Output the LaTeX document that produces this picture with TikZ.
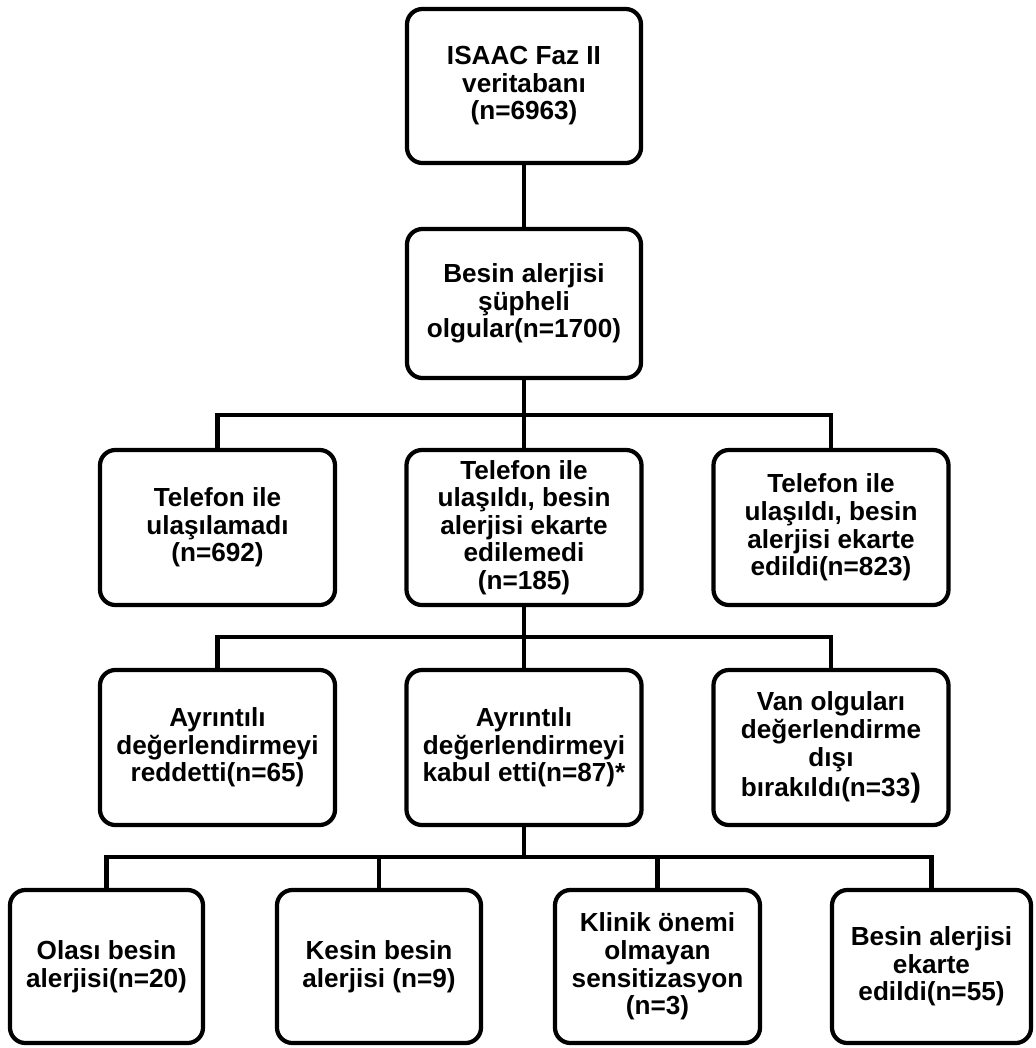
\documentclass[tikz,border=0pt]{standalone}
\usepackage{fontspec}
\setmainfont{Liberation Sans}
\usepackage{tikz}

\begin{document}
\begin{tikzpicture}[x=0.025cm,y=-0.025cm,
  box/.style={draw,rectangle,rounded corners=11pt,line width=3pt,align=center,inner sep=0pt,
    font=\bfseries\fontsize{18.6}{19.6}\selectfont},
  midbox/.style={box,minimum width=5.875cm,minimum height=3.875cm},
  leafbox/.style={box,minimum height=3.825cm},
  link/.style={line width=3pt}]
\useasboundingbox (0,0) rectangle (1035,1048);

\node (isaac) [box,minimum width=5.85cm,minimum height=3.85cm] at (524,86) {ISAAC Faz II\\veritabanı\\(n=6963)};
\node (supheli) [box,minimum width=5.85cm,minimum height=3.725cm] at (524,303.5) {Besin alerjisi\\şüpheli\\olgular(n=1700)};

\node (ulasilamadi) [midbox] at (217.5,527.5) {Telefon ile\\ulaşılamadı\\(n=692)};
\node (edilemedi) [midbox] at (524,527.5) {Telefon ile\\ulaşıldı, besin\\alerjisi ekarte\\edilemedi\\(n=185)};
\node (edildi) [midbox] at (831,527.5) {Telefon ile\\ulaşıldı, besin\\alerjisi ekarte\\edildi(n=823)};

\node (reddetti) [midbox] at (217.5,747.5) {Ayrıntılı\\değerlendirmeyi\\reddetti(n=65)};
\node (kabul) [midbox] at (524,747.5) {Ayrıntılı\\değerlendirmeyi\\kabul etti(n=87)*};
\node (van) [midbox] at (831,747.5) {Van olguları\\değerlendirme\\dışı\\bırakıldı(n=33{\fontsize{23}{19.6}\selectfont )}};

\node (olasi) [leafbox,minimum width=4.825cm] at (106.5,966.5) {Olası besin\\alerjisi(n=20)};
\node (kesin) [leafbox,minimum width=5.1cm] at (379,966.5) {Kesin besin\\alerjisi (n=9)};
\node (klinik) [leafbox,minimum width=5.125cm] at (657.5,966.5) {Klinik önemi\\olmayan\\sensitizasyon\\(n=3)};
\node (ekarte) [leafbox,minimum width=4.975cm] at (931.5,966.5) {Besin alerjisi\\ekarte\\edildi(n=55)};

\coordinate (bus1) at (524,415);
\coordinate (bus2) at (524,637);
\coordinate (bus3) at (524,857);

\draw [link] (isaac) -- (supheli);
\draw [link] (supheli) -- (edilemedi);
\draw [link] (ulasilamadi.north) |- (bus1) -| (edildi.north);
\draw [link] (edilemedi) -- (kabul);
\draw [link] (reddetti.north) |- (bus2) -| (van.north);
\draw [link] (kabul.south) -- (bus3);
\draw [link] (olasi.north) |- (bus3) -| (ekarte.north);
\draw [link] (kesin.north) -- (kesin.north |- bus3);
\draw [link] (klinik.north) -- (klinik.north |- bus3);
\end{tikzpicture}
\end{document}
